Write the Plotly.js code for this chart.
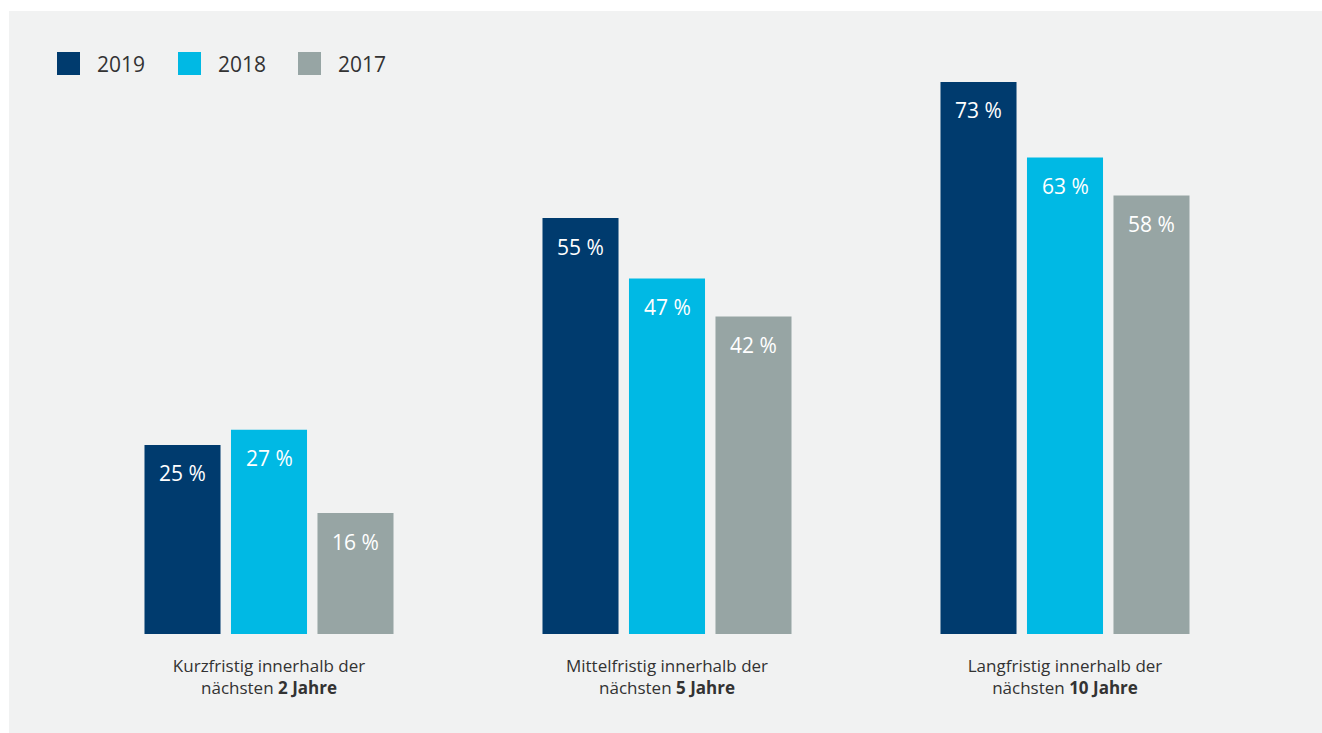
<!DOCTYPE html>
<html>
<head>
<meta charset="utf-8">
<script src="https://cdn.plot.ly/plotly-3.0.1.min.js"></script>
<style>
  html, body { margin: 0; padding: 0; background: #ffffff; }
  #chart { position: absolute; left: 9px; top: 11px; width: 1313px; height: 722px; }
</style>
</head>
<body>
<div id="chart"></div>
<script>
const categories = ['kurz', 'mittel', 'lang'];
const categoryLabels = [
  'Kurzfristig innerhalb der<br>nächsten <b>2 Jahre</b>',
  'Mittelfristig innerhalb der<br>nächsten <b>5 Jahre</b>',
  'Langfristig innerhalb der<br>nächsten <b>10 Jahre</b>'
];
const years = ['2019', '2018', '2017'];
const values2019 = [25, 55, 73];
const values2018 = [27, 47, 63];
const values2017 = [16, 42, 58];
const colors = ['#003b6e', '#00b9e4', '#97a5a4'];

const seriesValues = [values2019, values2018, values2017];
const FONT = '"Open Sans", "Noto Sans", sans-serif';

const traces = years.map((y, i) => ({
  type: 'bar',
  name: y,
  x: categories,
  y: seriesValues[i],
  marker: { color: colors[i] },
  hoverinfo: 'none',
  showlegend: false
}));

const pitch = 86.5; // px between bar centres within a group
const annotations = [];
seriesValues.forEach((vals, i) => {
  vals.forEach((v, j) => {
    annotations.push({
      x: categories[j], y: v, xref: 'x', yref: 'y',
      xshift: (i - 1) * pitch, yshift: -28.5,
      xanchor: 'center', yanchor: 'middle',
      text: v + ' %', showarrow: false,
      font: { family: FONT, size: 21, color: '#ffffff' }
    });
  });
});

// custom legend
const legendSquareX = [-13, 108, 228];
const legendTextX = [25, 146, 266];
const shapes = [];
years.forEach((y, i) => {
  shapes.push({
    type: 'rect', xref: 'paper', yref: 'paper',
    xsizemode: 'pixel', ysizemode: 'pixel', xanchor: 0, yanchor: 1,
    x0: legendSquareX[i], x1: legendSquareX[i] + 23, y0: -46, y1: -23,
    fillcolor: colors[i], line: { width: 0 }
  });
  annotations.push({
    xref: 'paper', yref: 'paper', x: 0, y: 1,
    xshift: legendTextX[i], yshift: -34.5,
    xanchor: 'left', yanchor: 'middle',
    text: y, showarrow: false,
    font: { family: FONT, size: 21, color: '#333333' }
  });
});

const layout = {
  width: 1313, height: 722,
  margin: { l: 61, r: 58, t: 18, b: 99 },
  paper_bgcolor: '#f1f2f2',
  plot_bgcolor: '#f1f2f2',
  barmode: 'group',
  bargap: 0.348,
  bargroupgap: 0.121,
  showlegend: false,
  font: { family: FONT, color: '#333333' },
  xaxis: {
    type: 'category',
    tickvals: categories,
    ticktext: categoryLabels,
    tickfont: { family: FONT, size: 17, color: '#333333' },
    ticklabelstandoff: 20,
    showgrid: false, zeroline: false, showline: false, ticks: '',
    range: [-0.5, 2.5], fixedrange: true
  },
  yaxis: {
    range: [0, 80],
    showgrid: false, zeroline: false, showline: false,
    showticklabels: false, ticks: '', fixedrange: true
  },
  shapes: shapes,
  annotations: annotations
};

Plotly.newPlot('chart', traces, layout, { displayModeBar: false, staticPlot: true });
</script>
</body>
</html>
